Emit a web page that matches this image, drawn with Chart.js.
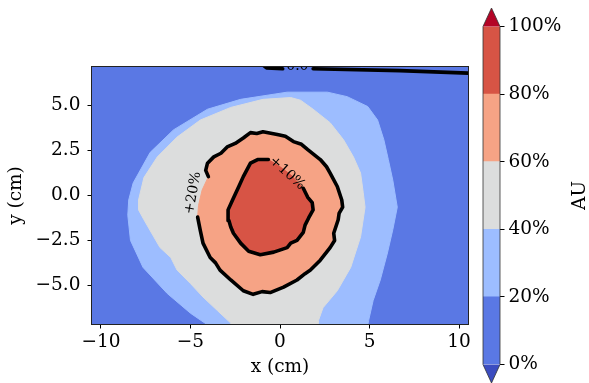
<!DOCTYPE html>
<html>
<head>
<meta charset="utf-8">
<script src="https://cdn.jsdelivr.net/npm/chart.js@4.4.0/dist/chart.umd.min.js"></script>
<style>
  html, body { margin: 0; padding: 0; background: #fff; }
  #main { position: absolute; left: 0; top: 0; }
  #cbar { position: absolute; left: 470px; top: 0; }
</style>
</head>
<body>
<canvas id="main" width="589" height="383"></canvas>
<canvas id="cbar" width="119" height="383"></canvas>
<script>
Chart.defaults.font.family = 'DejaVu Serif';
Chart.defaults.font.size = 18.5;
Chart.defaults.color = '#000';

// axes
const xTicks = [-10, -5, 0, 5, 10];
const yTicks = [-5, -2.5, 0, 2.5, 5];
const xRange = [-10.5, 10.5];
const yRange = [-7.15, 7.15];

// colour levels (AU, %)
const levels = [0, 20, 40, 60, 80, 100];
const levelColors = ['#5a78e4', '#9dbdff', '#dcdddd', '#f6a385', '#d75445'];
const underColor = '#3b4cc0';
const overColor = '#b40426';

// contour regions, x/y in cm
const lb20 = [[-3.8,-7.8],[-3.9,-7.3],[-5.0,-6.55],[-6.3,-5.45],[-7.65,-4.0],[-8.35,-2.5],[-8.5,-1.1],
  [-8.45,-0.25],[-8.2,0.7],[-7.25,2.4],[-5.95,3.65],[-4.05,4.8],[-2.2,5.35],[0.4,5.75],[2.65,5.75],
  [3.75,5.5],[4.9,4.95],[5.45,4.2],[5.8,3.1],[6.05,2.0],[6.3,0.85],[6.55,-0.65],[6.3,-1.9],[6.0,-3.2],
  [5.6,-4.7],[5.2,-5.85],[4.95,-6.95],[4.8,-7.8]];

const g40 = [[-2.65,-7.8],[-2.75,-7.1],[-3.5,-6.4],[-4.3,-5.65],[-5.0,-4.9],[-5.75,-4.15],[-6.1,-3.45],
  [-6.7,-2.9],[-7.05,-2.3],[-7.6,-1.35],[-7.9,-0.8],[-7.9,-0.25],[-7.6,1.0],[-6.85,2.15],[-5.75,3.25],
  [-4.45,4.2],[-2.75,4.9],[-0.95,5.35],[0.6,5.45],[1.15,5.3],[1.85,4.8],[2.8,4.05],[3.55,3.1],[4.1,2.15],
  [4.5,1.25],[4.65,0.15],[4.75,-0.65],[4.5,-2.3],[3.95,-4.0],[3.2,-5.3],[2.4,-6.25],[2.15,-6.95],[2.1,-7.8]];

// +20% contour: last two points sit under the label
const s60 = [[-4.0,1.05],[-4.15,1.4],[-4.05,1.8],[-3.7,2.15],[-3.3,2.35],[-2.95,2.7],[-2.5,2.9],[-2.05,3.2],
  [-1.65,3.5],[-1.3,3.45],[-0.95,3.55],[-0.15,3.4],[0.3,3.3],[0.75,3.0],[1.2,2.85],[1.55,2.55],[2.25,2.0],
  [2.6,1.6],[2.8,1.25],[3.2,0.5],[3.45,-0.25],[3.5,-0.65],[3.3,-1.0],[3.25,-1.35],[3.0,-2.1],[3.05,-2.5],
  [2.8,-2.9],[2.25,-3.6],[1.7,-4.15],[1.4,-4.35],[0.95,-4.7],[0.2,-5.1],[-0.55,-5.4],[-1.0,-5.35],
  [-1.5,-5.5],[-2.05,-5.3],[-2.75,-4.7],[-3.35,-4.15],[-3.6,-3.75],[-3.9,-3.45],[-4.3,-2.65],
  [-4.45,-1.95],[-4.6,-1.2],[-4.55,-0.55],[-4.35,0.3]];

// +10% contour: last two points sit under the label
const r80 = [[1.3,0.4],[1.55,-0.1],[1.8,-0.4],[1.85,-0.8],[1.6,-1.25],[1.4,-1.65],[1.3,-2.05],
  [0.95,-2.5],[0.6,-2.65],[0.4,-2.9],[-0.35,-3.15],[-1.1,-3.3],[-1.75,-3.1],[-2.2,-2.65],[-2.6,-2.1],
  [-2.75,-1.75],[-2.85,-1.4],[-2.9,-0.8],[-2.65,-0.25],[-2.3,0.5],[-2.05,1.05],[-1.65,1.8],[-1.25,2.0],
  [-0.65,2.0],[0.0,1.6],[0.6,1.15]];

// 0.0 contour along the top edge
const zeroA = [[-1.0,7.3],[-0.75,7.1],[0.15,7.05]];
const zeroB = [[1.85,7.05],[6.7,6.95],[10.7,6.8]];

const contourLabels = [
  { text: '+20%', x: -4.86, y: 0.14, angle: -80 },
  { text: '+10%', x: 0.4, y: 1.24, angle: 42 },
  { text: '0.0', x: 0.97, y: 7.17, angle: 0 }
];

const pts = a => a.map(p => ({ x: p[0], y: p[1] }));
const closed = a => a.concat([a[0]]);

function region(a, color, order) {
  return { data: pts(closed(a)), showLine: true, fill: 'shape', backgroundColor: color,
    borderColor: color, borderWidth: 1, pointRadius: 0, tension: 0, order: order };
}
function contour(a, order) {
  return { data: pts(a), showLine: true, fill: false, borderColor: '#000', borderWidth: 3.6,
    borderJoinStyle: 'round', borderCapStyle: 'round', pointRadius: 0, tension: 0, order: order };
}

const minus = v => String(v).replace('-', '\u2212');

const plotDeco = {
  id: 'plotDeco',
  beforeDatasetsDraw(chart) {
    const { ctx, chartArea: a } = chart;
    ctx.save();
    ctx.fillStyle = levelColors[0];
    ctx.fillRect(a.left, a.top, a.right - a.left, a.bottom - a.top);
    ctx.restore();
  },
  afterDraw(chart) {
    const { ctx, chartArea: a, scales } = chart;
    ctx.save();
    ctx.beginPath();
    ctx.rect(a.left, a.top, a.right - a.left, a.bottom - a.top);
    ctx.clip();
    ctx.fillStyle = '#000';
    ctx.font = '14px "DejaVu Serif"';
    ctx.textAlign = 'center';
    ctx.textBaseline = 'middle';
    contourLabels.forEach(l => {
      ctx.save();
      ctx.translate(scales.x.getPixelForValue(l.x), scales.y.getPixelForValue(l.y));
      ctx.rotate(l.angle * Math.PI / 180);
      ctx.fillText(l.text, 0, 0);
      ctx.restore();
    });
    ctx.restore();
    ctx.save();
    ctx.strokeStyle = '#222';
    ctx.lineWidth = 1;
    ctx.strokeRect(Math.round(a.left) - 0.5, Math.round(a.top) - 0.5,
      Math.round(a.right - a.left) + 1, Math.round(a.bottom - a.top) + 1);
    ctx.restore();
  }
};

new Chart(document.getElementById('main'), {
  type: 'scatter',
  data: {
    datasets: [
      contour(s60.slice(0, -2), 0),
      contour(r80.slice(0, -2), 0),
      contour(zeroA, 0),
      contour(zeroB, 0),
      region(r80, levelColors[4], 1),
      region(s60, levelColors[3], 2),
      region(g40, levelColors[2], 3),
      region(lb20, levelColors[1], 4)
    ]
  },
  options: {
    responsive: false,
    animation: false,
    events: [],
    layout: { padding: { left: 0, right: 121, top: 67, bottom: 5 } },
    plugins: { legend: { display: false }, tooltip: { enabled: false } },
    scales: {
      x: {
        type: 'linear', min: xRange[0], max: xRange[1], z: 1,
        afterFit: s => { s.height = 54; },
        afterBuildTicks: s => { s.ticks = xTicks.map(v => ({ value: v })); },
        ticks: { callback: v => minus(v), padding: 3, maxRotation: 0 },
        grid: { color: '#b0b0b0', lineWidth: 1, tickLength: 4.5, tickColor: '#000' },
        border: { display: false },
        title: { display: true, text: 'x (cm)', padding: { top: 0, bottom: 0 } }
      },
      y: {
        type: 'linear', min: yRange[0], max: yRange[1], z: 1,
        afterFit: s => { s.width = 92; },
        afterBuildTicks: s => { s.ticks = yTicks.map(v => ({ value: v })); },
        ticks: { callback: v => minus(v.toFixed(1)), padding: 7 },
        grid: { color: '#b0b0b0', lineWidth: 1, tickLength: 4.5, tickColor: '#000' },
        border: { display: false },
        title: { display: true, text: 'y (cm)', padding: { top: 5, bottom: 0 } }
      }
    }
  },
  plugins: [plotDeco]
});

// colour bar
const cbarDeco = {
  id: 'cbarDeco',
  afterDraw(chart) {
    const { ctx, chartArea: a } = chart;
    const cx = (a.left + a.right) / 2, h = 18.5;
    ctx.save();
    ctx.fillStyle = overColor;
    ctx.beginPath();
    ctx.moveTo(a.left, a.top); ctx.lineTo(cx, a.top - h); ctx.lineTo(a.right, a.top); ctx.closePath();
    ctx.fill();
    ctx.fillStyle = underColor;
    ctx.beginPath();
    ctx.moveTo(a.left, a.bottom); ctx.lineTo(cx, a.bottom + h); ctx.lineTo(a.right, a.bottom); ctx.closePath();
    ctx.fill();
    ctx.strokeStyle = '#333';
    ctx.lineWidth = 0.8;
    ctx.beginPath();
    ctx.moveTo(a.left, a.top); ctx.lineTo(cx, a.top - h); ctx.lineTo(a.right, a.top);
    ctx.lineTo(a.right, a.bottom); ctx.lineTo(cx, a.bottom + h); ctx.lineTo(a.left, a.bottom);
    ctx.closePath();
    ctx.stroke();
    ctx.fillStyle = '#000';
    ctx.font = '18.5px "DejaVu Serif"';
    ctx.textAlign = 'center';
    ctx.textBaseline = 'middle';
    ctx.translate(110, (a.top + a.bottom) / 2);
    ctx.rotate(-Math.PI / 2);
    ctx.fillText('AU', 0, 0);
    ctx.restore();
  }
};

new Chart(document.getElementById('cbar'), {
  type: 'bar',
  data: {
    labels: ['AU'],
    datasets: levelColors.map((c, i) => ({
      data: [levels[i + 1] - levels[i]], backgroundColor: c, borderWidth: 0,
      barPercentage: 1, categoryPercentage: 1
    }))
  },
  options: {
    responsive: false,
    animation: false,
    events: [],
    layout: { padding: { left: 13, right: 0, top: 26.5, bottom: 18.5 } },
    plugins: { legend: { display: false }, tooltip: { enabled: false } },
    scales: {
      x: { display: false, stacked: true },
      y: {
        stacked: true, position: 'right', min: levels[0], max: levels[levels.length - 1],
        afterFit: s => { s.width = 89; },
        afterBuildTicks: s => { s.ticks = levels.map(v => ({ value: v })); },
        ticks: { callback: v => v + '%', padding: 4 },
        grid: { drawOnChartArea: false, tickLength: 4.5, tickColor: '#000' },
        border: { display: false }
      }
    }
  },
  plugins: [cbarDeco]
});
</script>
</body>
</html>
